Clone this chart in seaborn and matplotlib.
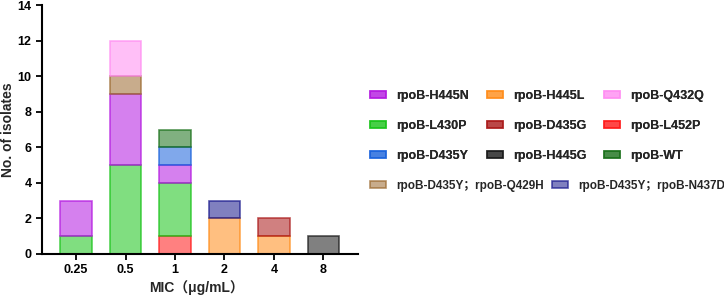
import matplotlib
matplotlib.use("Agg")
import matplotlib.pyplot as plt
from matplotlib.patches import Patch
from matplotlib.colors import to_rgba
import pandas as pd
import seaborn as sns

# MIC categories (x axis)
mic_levels = ["0.25", "0.5", "1", "2", "4", "8"]

# one row per stacked segment: MIC, mutation, number of isolates
mic = ["0.25", "0.25",
       "0.5", "0.5", "0.5", "0.5",
       "1", "1", "1", "1", "1",
       "2", "2",
       "4", "4",
       "8"]
mutation = ["rpoB-L430P", "rpoB-H445N",
            "rpoB-L430P", "rpoB-H445N", "rpoB-D435Y；rpoB-Q429H", "rpoB-Q432Q",
            "rpoB-L452P", "rpoB-L430P", "rpoB-H445N", "rpoB-D435Y", "rpoB-WT",
            "rpoB-H445L", "rpoB-D435Y；rpoB-N437D",
            "rpoB-H445L", "rpoB-D435G",
            "rpoB-H445G"]
n_isolates = [1, 2,
              5, 4, 1, 2,
              1, 3, 1, 1, 1,
              2, 1,
              1, 1,
              1]

# stacking order, bottom -> top
stack_order = ["rpoB-L452P", "rpoB-H445L", "rpoB-L430P", "rpoB-H445N",
               "rpoB-D435Y", "rpoB-WT", "rpoB-D435G", "rpoB-D435Y；rpoB-Q429H",
               "rpoB-Q432Q", "rpoB-D435Y；rpoB-N437D", "rpoB-H445G"]

colors = {
    "rpoB-H445N": "#b318e0",
    "rpoB-H445L": "#ff8c18",
    "rpoB-Q432Q": "#ff8cf2",
    "rpoB-L430P": "#18c318",
    "rpoB-D435G": "#aa1818",
    "rpoB-L452P": "#ff1818",
    "rpoB-D435Y": "#1861dc",
    "rpoB-H445G": "#181818",
    "rpoB-WT": "#186f18",
    "rpoB-D435Y；rpoB-Q429H": "#9b682e",
    "rpoB-D435Y；rpoB-N437D": "#18188c",
}
FILL_ALPHA = 0.55
EDGE_ALPHA = 0.72

# legend layout (3x3 grid + last row with the two double mutants)
legend_main = ["rpoB-H445N", "rpoB-L430P", "rpoB-D435Y",
               "rpoB-H445L", "rpoB-D435G", "rpoB-H445G",
               "rpoB-Q432Q", "rpoB-L452P", "rpoB-WT"]
legend_extra = ["rpoB-D435Y；rpoB-Q429H", "rpoB-D435Y；rpoB-N437D"]

df = pd.DataFrame({"MIC": pd.Categorical(mic, categories=mic_levels),
                   "Mutation": mutation, "n": n_isolates})

sns.set_style("ticks")
plt.rcParams["font.family"] = ["Liberation Sans", "Noto Sans CJK SC", "DejaVu Sans"]
plt.rcParams["font.weight"] = "bold"
plt.rcParams["axes.labelweight"] = "bold"

fig = plt.figure(figsize=(7.24, 2.95), dpi=100)
ax = fig.add_axes([0.058, 0.139, 0.4365, 0.844])

# seaborn stacks the last hue level at the bottom, so pass top-first
sns.histplot(data=df, x="MIC", hue="Mutation", weights="n", multiple="stack",
             discrete=True, shrink=0.64, hue_order=stack_order[::-1],
             palette=colors, alpha=FILL_ALPHA, linewidth=1.2, legend=False, ax=ax)

for p in ax.patches:
    if p.get_height() == 0:
        p.set_visible(False)
        continue
    fc = p.get_facecolor()
    p.set_edgecolor((fc[0], fc[1], fc[2], EDGE_ALPHA))

ax.set_xlim(-0.69, 5.7)
ax.set_ylim(0, 14)
ax.set_yticks(range(0, 15, 2))
ax.set_xticks(range(len(mic_levels)))
ax.set_xticklabels(mic_levels)
ax.tick_params(axis="both", labelsize=9, width=1.3, length=4, colors="black")
for lab in ax.get_xticklabels() + ax.get_yticklabels():
    lab.set_fontweight("bold")
for s in ["left", "bottom"]:
    ax.spines[s].set_linewidth(1.5)
    ax.spines[s].set_color("black")
sns.despine(ax=ax)
ax.set_xlabel("MIC（μg/mL）", fontsize=10, fontweight="bold", va="center")
ax.set_ylabel("No. of isolates", fontsize=10, fontweight="bold")
ax.xaxis.set_label_coords(0.49, -0.134)
ax.yaxis.set_label_coords(-0.085, 0.5)


def handles_for(names):
    return [Patch(facecolor=to_rgba(colors[k], FILL_ALPHA),
                  edgecolor=to_rgba(colors[k], EDGE_ALPHA), linewidth=1.2, label=k)
            for k in names]


leg1 = fig.legend(handles=handles_for(legend_main), ncol=3, frameon=False,
                  loc="upper left", bbox_to_anchor=(0.511, 0.695),
                  prop={"size": 9, "weight": "bold"}, handlelength=1.3,
                  handleheight=0.5, handletextpad=0.8, labelspacing=1.45,
                  columnspacing=1.4, borderaxespad=0, borderpad=0)
leg2 = fig.legend(handles=handles_for(legend_extra), ncol=2, frameon=False,
                  loc="upper left", bbox_to_anchor=(0.511, 0.39),
                  prop={"size": 8.5, "weight": "bold"}, handlelength=1.4,
                  handleheight=0.5, handletextpad=0.8, columnspacing=0.7,
                  borderaxespad=0, borderpad=0)
fig.add_artist(leg1)

fig.savefig("out.png", dpi=100)
